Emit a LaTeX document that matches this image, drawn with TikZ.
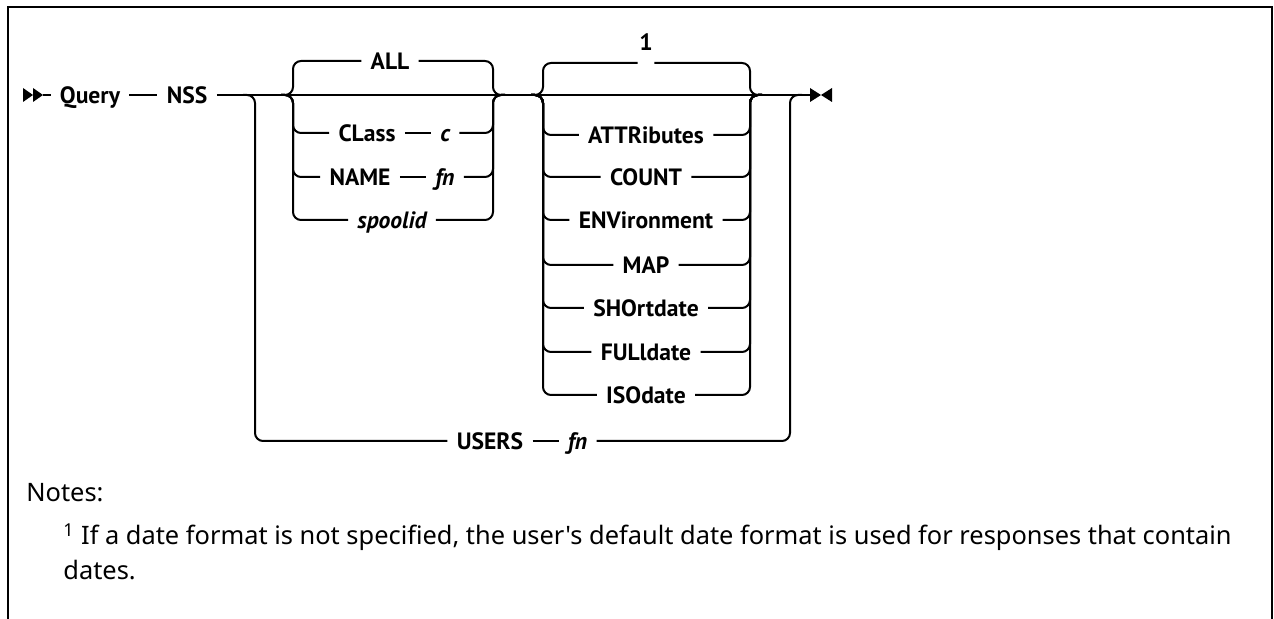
\documentclass[tikz,border=0pt]{standalone}
\usepackage{fontspec}
\setsansfont{PT Sans}
\newfontfamily\notefont{Noto Sans}
\usetikzlibrary{positioning}

\begin{document}
\begin{tikzpicture}[x=0.5pt, y=-0.5pt,
    rail/.style={line width=1pt, rounded corners=4pt},
    kw/.style={font=\sffamily\bfseries\fontsize{11.8}{13}\selectfont, inner xsep=4.5pt, inner ysep=1pt, text height=8.2pt, text depth=0pt},
    var/.style={kw, font=\sffamily\bfseries\itshape\fontsize{11.8}{13}\selectfont},
    notetext/.style={font=\notefont\fontsize{12.7}{15}\selectfont, inner sep=0pt},
    frame/.style={line width=1.2pt}]
    \useasboundingbox (0,0) rectangle (1274,619);

    % Frame
    \draw[frame] (8,619) -- (8,7) -- (1272,7) -- (1272,619);

    % Branch points on the main line
    \coordinate (start) at (43,95);
    \coordinate (stop) at (812,95);
    \coordinate (ol) at (255,95);
    \coordinate (or) at (790,95);
    \coordinate (g1l) at (293,95);
    \coordinate (g1r) at (493,95);
    \coordinate (g2l) at (543,95);
    \coordinate (g2r) at (750,95);

    % Start and end marks
    \fill (23,88) -- (33,95) -- (23,102) -- cycle;
    \fill (33,88) -- (43,95) -- (33,102) -- cycle;
    \fill (810,88) -- (821,95) -- (810,102) -- cycle;
    \fill (832,88) -- (821,95) -- (832,102) -- cycle;

    % Main line
    \node[kw] (query) at (90,95) {Query};
    \node[kw, right=14pt of query] (nss) {NSS};
    \draw[rail] (start) -- (query);
    \draw[rail] (query) -- (nss);
    \draw[rail] (nss) -- (stop);

    % First group
    \node[kw] (all) at (390,61) {ALL};
    \node[kw] (cls) at (367,133) {CLass};
    \node[var, right=13pt of cls] (c) {c};
    \node[kw] (name) at (360,177) {NAME};
    \node[var, right=13pt of name] (nfn) {fn};
    \node[var] (spool) at (392,220) {spoolid};
    \draw[rail] ([xshift=-6pt]g1l) -- (g1l) |- (all.west);
    \draw[rail] (all.east) -| (g1r) -- ([xshift=6pt]g1r);
    \draw[rail] ([xshift=-6pt]g1l) -- (g1l) |- (cls.west);
    \draw[rail] (cls) -- (c);
    \draw[rail] (c.east) -| (g1r) -- ([xshift=6pt]g1r);
    \draw[rail] ([xshift=-6pt]g1l) -- (g1l) |- (name.west);
    \draw[rail] (name) -- (nfn);
    \draw[rail] (nfn.east) -| (g1r) -- ([xshift=6pt]g1r);
    \draw[rail] ([xshift=-6pt]g1l) -- (g1l) |- (spool.west);
    \draw[rail] (spool.east) -| (g1r) -- ([xshift=6pt]g1r);

    % Second group
    \node[inner sep=0pt, minimum width=8pt, minimum height=1pt,
        label={[kw, label distance=4.5pt]above:1}] (dflt) at (646,63) {};
    \node[kw] (attr) at (646,135) {ATTRibutes};
    \node[kw] (count) at (646,177) {COUNT};
    \node[kw] (env) at (646,220) {ENVironment};
    \node[kw] (map) at (646,265) {MAP};
    \node[kw] (short) at (646,308) {SHOrtdate};
    \node[kw] (full) at (646,352) {FULldate};
    \node[kw] (iso) at (646,395) {ISOdate};
    \draw[rail] ([xshift=-6pt]g2l) -- (g2l) |- (dflt.west);
    \draw[rail] (dflt.east) -| (g2r) -- ([xshift=6pt]g2r);
    \draw[rail] ([xshift=-6pt]g2l) -- (g2l) |- (attr.west);
    \draw[rail] (attr.east) -| (g2r) -- ([xshift=6pt]g2r);
    \draw[rail] ([xshift=-6pt]g2l) -- (g2l) |- (count.west);
    \draw[rail] (count.east) -| (g2r) -- ([xshift=6pt]g2r);
    \draw[rail] ([xshift=-6pt]g2l) -- (g2l) |- (env.west);
    \draw[rail] (env.east) -| (g2r) -- ([xshift=6pt]g2r);
    \draw[rail] ([xshift=-6pt]g2l) -- (g2l) |- (map.west);
    \draw[rail] (map.east) -| (g2r) -- ([xshift=6pt]g2r);
    \draw[rail] ([xshift=-6pt]g2l) -- (g2l) |- (short.west);
    \draw[rail] (short.east) -| (g2r) -- ([xshift=6pt]g2r);
    \draw[rail] ([xshift=-6pt]g2l) -- (g2l) |- (full.west);
    \draw[rail] (full.east) -| (g2r) -- ([xshift=6pt]g2r);
    \draw[rail] ([xshift=-6pt]g2l) -- (g2l) |- (iso.west);
    \draw[rail] (iso.east) -| (g2r) -- ([xshift=6pt]g2r);

    % USERS branch
    \node[kw] (users) at (490,441) {USERS};
    \node[var, right=13pt of users] (ufn) {fn};
    \draw[rail] ([xshift=-6pt]ol) -- (ol) |- (users.west);
    \draw[rail] (users) -- (ufn);
    \draw[rail] (ufn.east) -| (or) -- ([xshift=6pt]or);

    % Notes
    \node[notetext, anchor=base west] (notes) at (26,502) {Notes:};
    \node[notetext, anchor=base west] (fnote) at (63,545) {\textsuperscript{1} If a date format is not specified, the user's default date format is used for responses that contain};
    \node[notetext, anchor=base west] (dates) at (63,580) {dates.};
\end{tikzpicture}
\end{document}
